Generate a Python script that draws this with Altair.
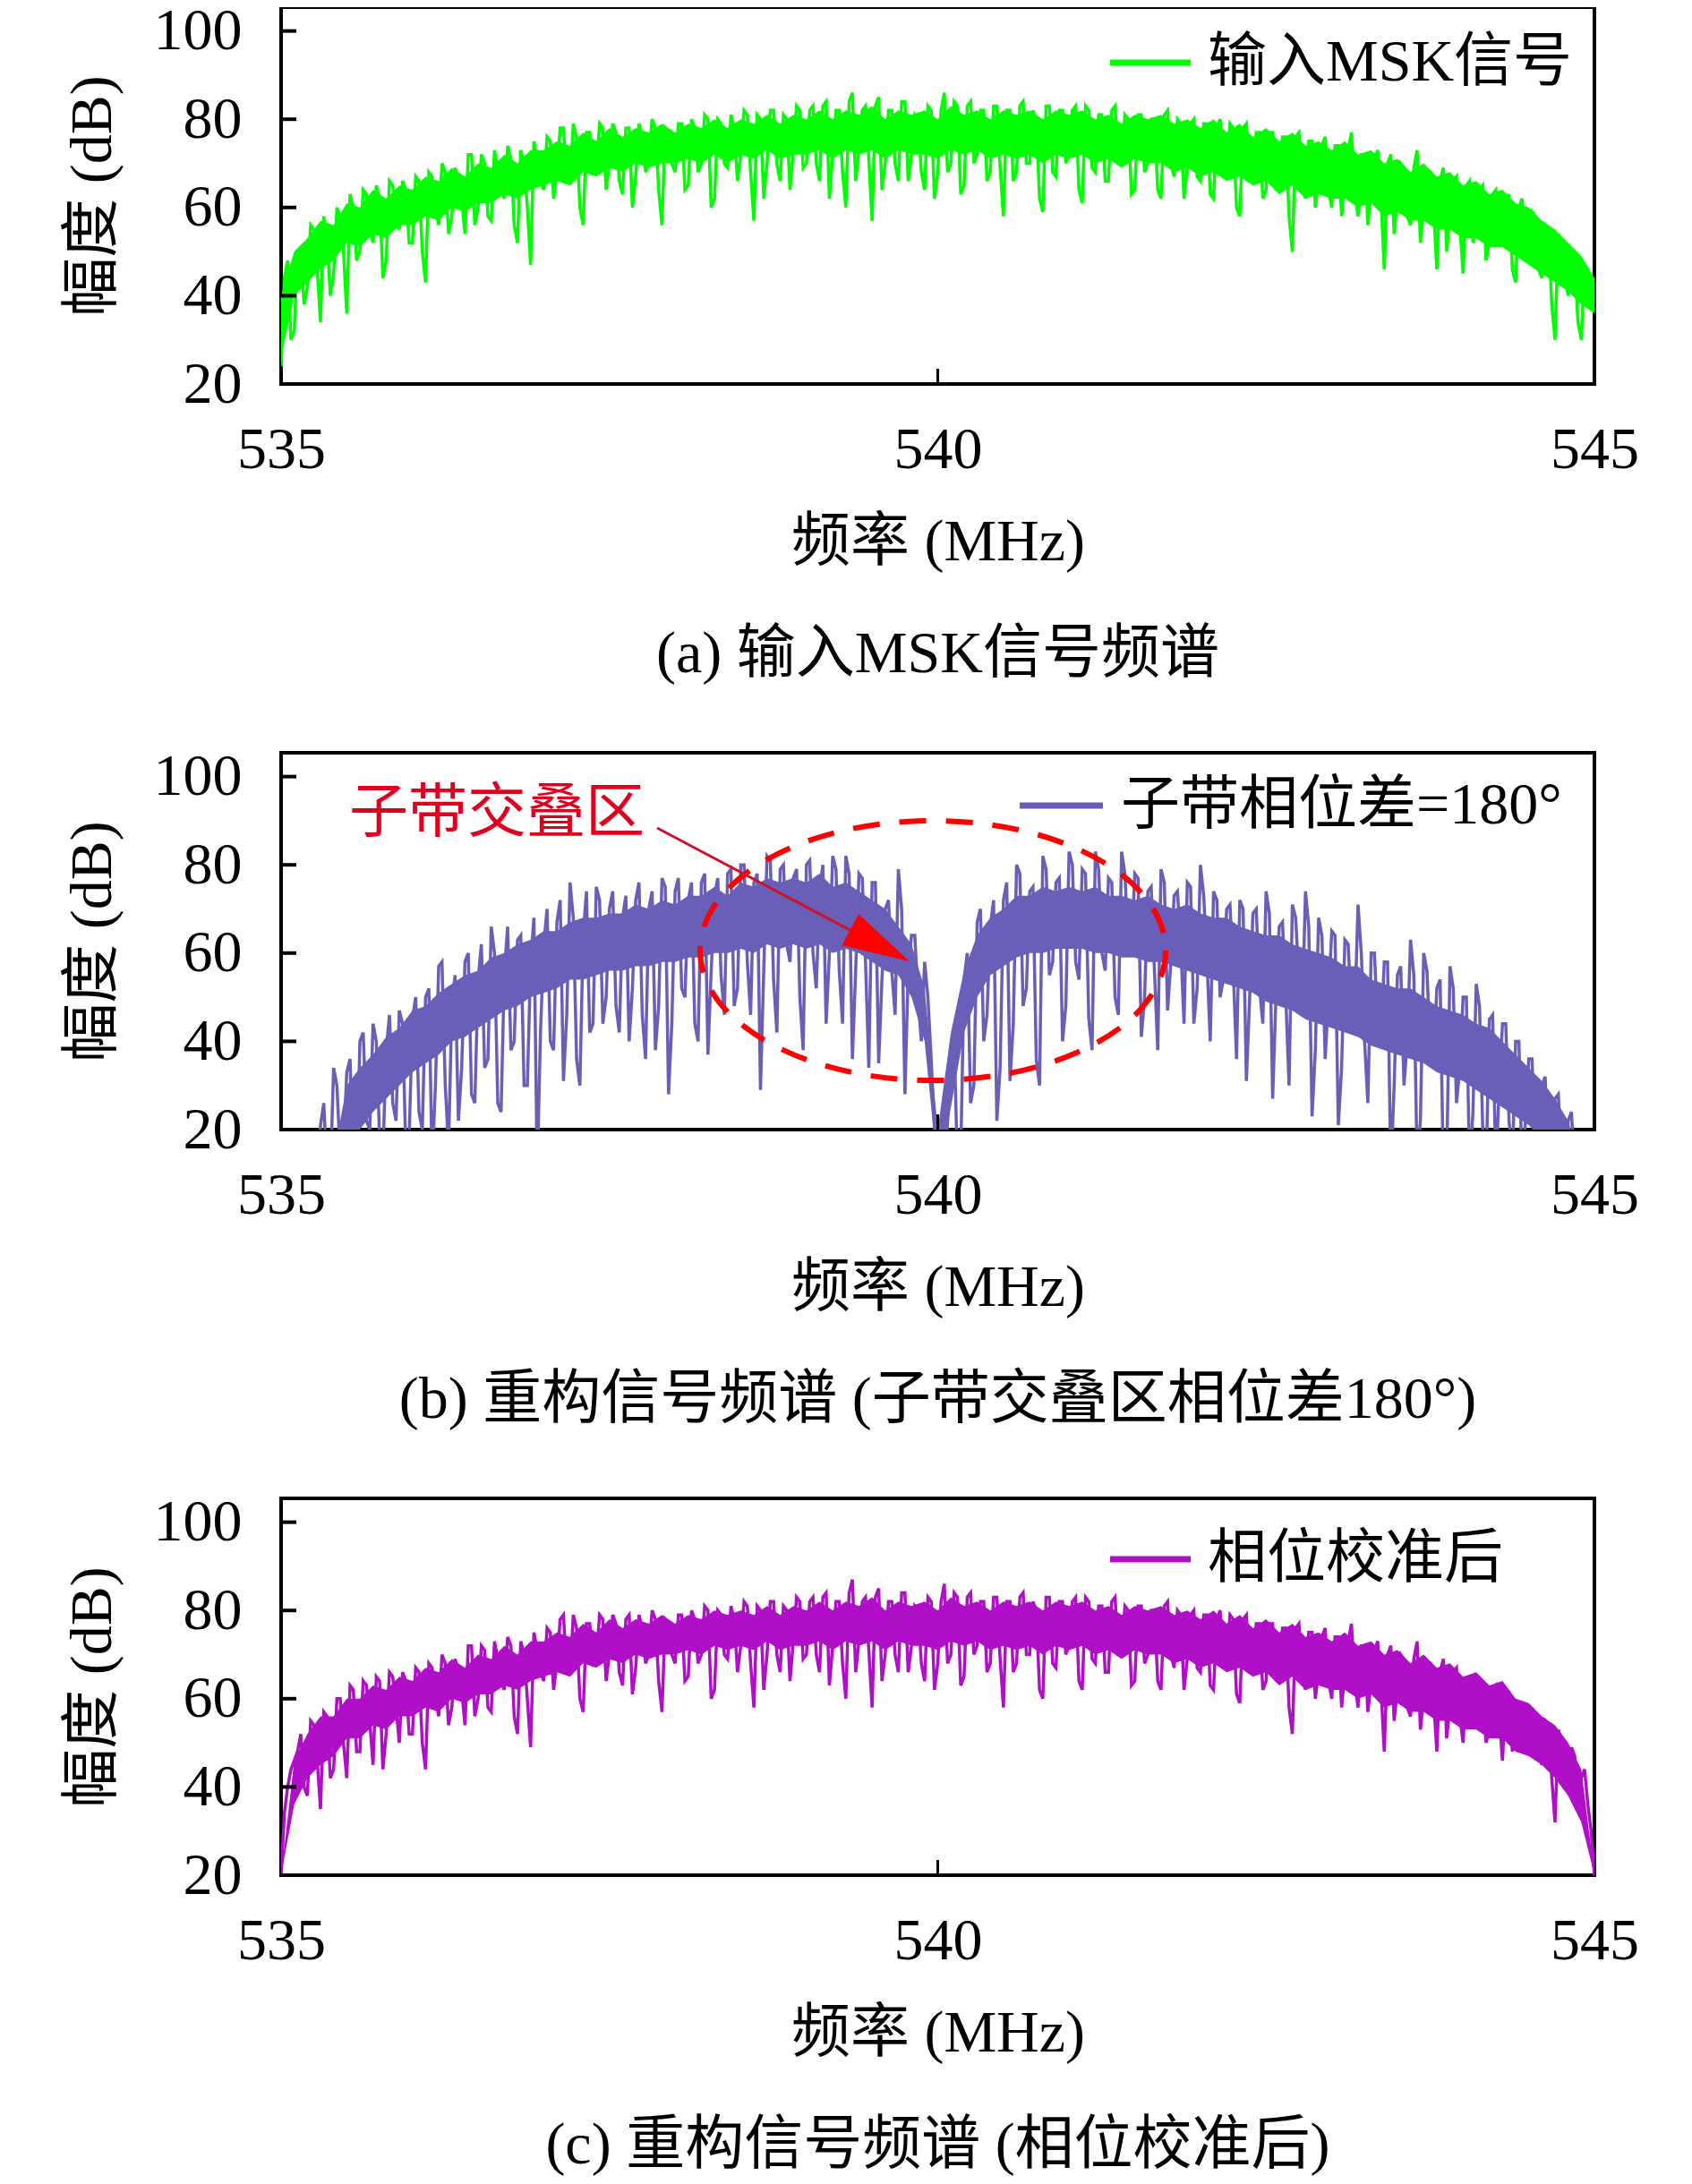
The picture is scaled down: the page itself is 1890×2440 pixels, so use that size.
import altair as alt
import pandas as pd

# ---------------- data ----------------
FREQ_START = 535.0   # MHz
FREQ_STEP = 0.05     # MHz between samples of each list
MID_OFFSET = 0.025   # the *_mid lists hold the samples lying half a step later
CORE_STEP = 0.1      # MHz between samples of the dense core band (lower / upper edge)

amp_input = [
    24, 48, 32, 50, 42, 55, 34, 53, 45, 58,
    36, 60, 50, 63, 52, 62, 48, 65, 55, 64,
    52, 66, 43, 67, 56, 68, 58, 66, 54, 72,
    60, 70, 57, 69, 62, 71, 52, 70, 47, 71,
    64, 75, 68, 78, 66, 76, 56, 77, 69, 78,
    70, 77, 63, 78, 67, 76, 70, 78, 56, 77,
    68, 79, 65, 78, 70, 80, 62, 79, 69, 78,
    72, 81, 57, 80, 70, 82, 66, 80, 73, 82,
    70, 83, 66, 84, 72, 82, 60, 86, 73, 83,
    57, 85, 70, 82, 66, 84, 72, 80, 64, 82,
    68, 86, 70, 83, 65, 84, 72, 82, 68, 83,
    58, 82, 68, 84, 70, 80, 59, 83, 67, 82,
    72, 83, 61, 82, 68, 81, 66, 83, 70, 80,
    64, 81, 70, 80, 62, 82, 67, 79, 69, 80,
    66, 79, 62, 80, 68, 78, 58, 79, 66, 77,
    64, 77, 68, 76, 50, 77, 62, 75, 66, 76,
    60, 74, 66, 77, 58, 72, 64, 73, 46, 72,
    62, 69, 56, 73, 60, 68, 46, 69, 58, 67,
    45, 66, 56, 65, 52, 64, 58, 63, 43, 62,
    52, 58, 44, 55, 30, 50, 40, 47, 30, 46,
    40,
]
amp_input_mid = [
    44, 30, 50, 38, 56, 46, 58, 40, 60, 50,
    63, 48, 64, 55, 65, 44, 66, 58, 66, 52,
    67, 50, 68, 60, 70, 54, 69, 62, 72, 56,
    72, 58, 73, 64, 74, 56, 73, 60, 75, 66,
    76, 62, 78, 66, 79, 60, 77, 68, 79, 64,
    79, 66, 78, 60, 79, 68, 80, 64, 78, 70,
    79, 64, 80, 68, 81, 60, 80, 70, 81, 66,
    82, 68, 81, 62, 82, 70, 81, 64, 83, 69,
    82, 70, 83, 62, 82, 68, 84, 66, 82, 71,
    83, 64, 82, 70, 84, 66, 81, 68, 83, 62,
    82, 68, 84, 63, 83, 70, 82, 66, 83, 69,
    82, 66, 83, 70, 82, 62, 83, 68, 82, 70,
    82, 64, 83, 69, 81, 66, 82, 70, 81, 63,
    81, 68, 80, 64, 81, 70, 80, 62, 79, 67,
    79, 63, 78, 68, 79, 60, 78, 66, 77, 62,
    77, 64, 76, 58, 76, 66, 75, 60, 74, 64,
    74, 58, 73, 64, 72, 56, 71, 62, 70, 54,
    70, 58, 69, 52, 68, 60, 66, 50, 66, 56,
    65, 52, 64, 48, 63, 55, 61, 46, 60, 50,
    59, 46, 56, 38, 54, 44, 50, 34, 47, 42,
]
core_input_lo = [
    26, 40, 43, 46, 48, 52, 51, 54, 53, 56,
    56, 58, 57, 60, 59, 61, 61, 63, 62, 64,
    65, 66, 65, 68, 67, 69, 68, 70, 69, 70,
    70, 71, 70, 72, 70, 72, 71, 73, 71, 72,
    72, 73, 71, 73, 72, 73, 71, 73, 72, 72,
    71, 73, 72, 73, 71, 72, 71, 72, 70, 72,
    71, 72, 70, 71, 69, 71, 70, 70, 68, 69,
    67, 68, 66, 67, 65, 66, 63, 65, 62, 63,
    62, 62, 60, 61, 58, 59, 57, 57, 55, 55,
    53, 53, 51, 51, 49, 47, 45, 43, 41, 38,
    36,
]
core_input_hi = [
    40, 50, 53, 57, 56, 61, 60, 64, 62, 65,
    64, 67, 66, 69, 67, 70, 69, 72, 70, 73,
    73, 75, 74, 77, 75, 78, 76, 78, 77, 79,
    77, 79, 78, 80, 78, 80, 79, 81, 79, 81,
    80, 82, 80, 82, 81, 83, 80, 82, 81, 82,
    80, 83, 81, 82, 80, 82, 81, 82, 80, 82,
    81, 82, 80, 81, 79, 81, 80, 81, 79, 80,
    78, 80, 77, 79, 76, 78, 75, 77, 74, 75,
    73, 75, 72, 73, 70, 71, 68, 70, 67, 68,
    65, 66, 63, 64, 61, 60, 57, 55, 52, 49,
    44,
]

amp_phase180 = [
    10, 10, 10, 10, 10, 12, 21, 10, 34, 14,
    33, 12, 40, 22, 44, 18, 38, 26, 47, 15,
    45, 24, 50, 12, 57, 30, 48, 22, 58, 28,
    54, 34, 66, 26, 56, 38, 63, 30, 58, 10,
    62, 40, 67, 31, 76, 36, 64, 42, 75, 44,
    70, 48, 68, 40, 72, 46, 70, 38, 77, 28,
    74, 52, 72, 44, 76, 37, 73, 55, 78, 48,
    80, 58, 76, 29, 82, 54, 79, 62, 77, 50,
    80, 60, 74, 44, 82, 56, 82, 36, 78, 58,
    76, 35, 70, 56, 79, 28, 64, 50, 58, 36,
    20, 10, 33, 12, 54, 26, 67, 40, 66, 22,
    72, 31, 80, 48, 74, 36, 82, 55, 76, 40,
    83, 58, 79, 45, 83, 60, 77, 50, 83, 62,
    78, 41, 74, 56, 79, 47, 73, 62, 76, 44,
    80, 58, 74, 50, 70, 56, 72, 31, 69, 52,
    74, 27, 66, 50, 71, 54, 74, 23, 68, 36,
    65, 21, 63, 46, 71, 40, 60, 44, 58, 10,
    55, 30, 63, 12, 60, 38, 52, 10, 57, 26,
    50, 10, 53, 20, 45, 10, 44, 22, 40, 10,
    36, 12, 30, 10, 27, 14, 22, 10, 10, 10,
    10,
]
amp_phase180_mid = [
    10, 10, 10, 10, 10, 10, 26, 10, 30, 16,
    36, 10, 42, 20, 40, 14, 46, 22, 44, 18,
    50, 20, 52, 30, 58, 16, 55, 34, 60, 26,
    62, 36, 60, 24, 66, 40, 64, 30, 68, 42,
    70, 38, 72, 46, 68, 30, 74, 44, 72, 50,
    74, 42, 73, 52, 76, 36, 74, 48, 75, 44,
    77, 50, 76, 40, 78, 56, 77, 46, 79, 52,
    80, 46, 78, 56, 81, 42, 80, 58, 79, 38,
    81, 52, 80, 60, 79, 44, 78, 56, 77, 34,
    76, 54, 72, 46, 70, 56, 64, 40, 50, 20,
    10, 22, 40, 14, 60, 30, 70, 46, 72, 34,
    76, 44, 78, 52, 75, 30, 79, 58, 77, 48,
    80, 54, 78, 38, 79, 56, 76, 46, 78, 60,
    77, 50, 75, 38, 76, 58, 74, 44, 75, 52,
    73, 40, 72, 54, 71, 36, 70, 50, 70, 44,
    69, 50, 67, 30, 68, 46, 66, 38, 64, 50,
    64, 34, 62, 46, 60, 26, 60, 42, 58, 30,
    57, 40, 55, 22, 56, 36, 54, 12, 52, 34,
    50, 24, 48, 10, 46, 30, 44, 12, 40, 22,
    36, 10, 32, 18, 28, 10, 24, 10, 14, 10,
]
core_phase180_lo = [
    10, 10, 10, 10, 10, 16, 20, 24, 27, 30,
    33, 35, 37, 40, 41, 43, 45, 47, 48, 50,
    51, 52, 54, 54, 55, 56, 56, 57, 57, 58,
    58, 59, 59, 60, 60, 61, 60, 62, 61, 62,
    61, 62, 60, 61, 60, 58, 56, 55, 50, 40,
    10, 25, 42, 50, 55, 57, 59, 60, 60, 61,
    61, 61, 60, 60, 59, 59, 58, 58, 57, 56,
    55, 54, 53, 52, 51, 49, 48, 47, 45, 44,
    43, 42, 41, 39, 38, 37, 36, 35, 33, 32,
    31, 29, 27, 25, 23, 21, 18, 14, 10, 10,
    10,
]
core_phase180_hi = [
    10, 10, 10, 10, 14, 30, 34, 37, 41, 43,
    47, 48, 51, 53, 55, 56, 59, 60, 62, 63,
    65, 65, 67, 68, 68, 69, 69, 71, 70, 72,
    71, 73, 73, 75, 73, 76, 75, 77, 76, 77,
    76, 78, 75, 76, 74, 72, 70, 66, 62, 52,
    20, 42, 56, 64, 68, 70, 73, 73, 75, 74,
    75, 74, 75, 73, 73, 72, 73, 71, 70, 71,
    69, 68, 68, 66, 65, 64, 64, 62, 61, 60,
    59, 57, 57, 54, 53, 52, 52, 50, 48, 47,
    46, 44, 43, 40, 37, 34, 31, 27, 22, 12,
    10,
]

amp_calibrated = [
    20, 40, 46, 52, 38, 54, 35, 56, 44, 60,
    42, 62, 48, 63, 45, 64, 52, 65, 50, 64,
    52, 66, 44, 67, 56, 68, 58, 66, 54, 72,
    60, 71, 57, 69, 62, 72, 52, 70, 49, 71,
    64, 75, 68, 79, 66, 76, 57, 77, 69, 78,
    70, 77, 63, 79, 67, 76, 70, 78, 57, 77,
    68, 79, 65, 78, 70, 80, 62, 79, 69, 78,
    72, 81, 58, 80, 70, 82, 66, 80, 73, 82,
    70, 83, 66, 84, 72, 82, 60, 87, 73, 83,
    58, 85, 70, 82, 66, 84, 72, 80, 64, 82,
    68, 86, 70, 83, 65, 84, 72, 82, 68, 83,
    58, 82, 68, 84, 70, 80, 60, 83, 67, 82,
    72, 83, 62, 82, 68, 81, 66, 83, 70, 80,
    64, 81, 70, 80, 62, 82, 67, 79, 69, 80,
    66, 79, 62, 80, 68, 78, 59, 79, 66, 77,
    64, 77, 68, 76, 52, 77, 62, 75, 66, 76,
    60, 74, 66, 77, 58, 72, 64, 73, 48, 72,
    62, 69, 56, 73, 60, 68, 48, 69, 58, 67,
    50, 64, 58, 62, 53, 63, 46, 61, 52, 58,
    56, 50, 45, 54, 32, 50, 40, 47, 42, 36,
    20,
]
amp_calibrated_mid = [
    34, 44, 48, 40, 55, 46, 57, 42, 60, 50,
    63, 48, 64, 55, 65, 44, 66, 58, 66, 52,
    67, 50, 68, 60, 70, 54, 69, 62, 72, 56,
    72, 58, 73, 64, 74, 56, 73, 60, 75, 66,
    76, 62, 78, 66, 79, 60, 77, 68, 79, 64,
    79, 66, 78, 61, 79, 68, 80, 64, 78, 70,
    79, 64, 80, 68, 81, 60, 80, 70, 81, 66,
    82, 68, 81, 62, 82, 70, 81, 64, 83, 69,
    82, 70, 83, 63, 82, 68, 84, 66, 82, 71,
    83, 64, 82, 70, 84, 66, 81, 68, 83, 62,
    82, 68, 84, 63, 83, 70, 82, 66, 83, 69,
    82, 66, 83, 70, 82, 62, 83, 68, 82, 70,
    82, 64, 83, 69, 81, 66, 82, 70, 81, 63,
    81, 68, 80, 64, 81, 70, 80, 62, 79, 67,
    79, 63, 78, 68, 79, 61, 78, 66, 77, 62,
    77, 64, 76, 58, 76, 66, 75, 60, 74, 64,
    74, 58, 73, 64, 72, 57, 71, 62, 70, 55,
    70, 58, 69, 53, 68, 60, 66, 51, 66, 56,
    64, 54, 63, 50, 62, 56, 60, 48, 58, 52,
    58, 48, 55, 42, 53, 44, 49, 38, 44, 30,
]
core_cal_lo = [
    20, 36, 42, 45, 47, 51, 51, 54, 53, 56,
    56, 58, 57, 60, 59, 61, 61, 63, 62, 64,
    65, 66, 65, 68, 67, 69, 68, 70, 69, 70,
    70, 71, 70, 72, 71, 72, 71, 73, 71, 72,
    72, 73, 71, 73, 72, 73, 71, 73, 72, 72,
    71, 73, 72, 73, 71, 72, 71, 72, 70, 72,
    71, 72, 70, 71, 69, 71, 70, 70, 68, 69,
    67, 68, 66, 67, 65, 66, 63, 65, 62, 63,
    62, 62, 60, 61, 58, 59, 57, 57, 55, 55,
    53, 53, 51, 51, 48, 47, 45, 42, 38, 32,
    20,
]
core_cal_hi = [
    20, 46, 52, 56, 56, 60, 60, 63, 62, 65,
    64, 67, 66, 69, 67, 70, 69, 72, 70, 73,
    73, 75, 74, 77, 75, 78, 76, 78, 77, 79,
    77, 79, 78, 80, 79, 80, 79, 81, 79, 81,
    80, 82, 80, 82, 81, 83, 80, 82, 81, 82,
    80, 83, 81, 82, 80, 82, 81, 82, 80, 82,
    81, 82, 80, 81, 79, 81, 80, 81, 79, 80,
    78, 80, 77, 79, 76, 78, 75, 77, 74, 75,
    73, 75, 72, 73, 70, 71, 68, 70, 67, 68,
    65, 66, 63, 64, 60, 59, 56, 54, 50, 44,
    20,
]

x_tick_values = [535, 540, 545]
y_tick_values = [20, 40, 60, 80, 100]
inner_x_ticks = [540]

x_title = "频率 (MHz)"
y_title = "幅度 (dB)"
legend_labels = ["输入MSK信号", "子带相位差=180°", "相位校准后"]
captions = ["(a) 输入MSK信号频谱", "(b) 重构信号频谱 (子带交叠区相位差180°)", "(c) 重构信号频谱 (相位校准后)"]
annotation_text = "子带交叠区"

colors = ["#00ff00", "#6a5fb8", "#b00fc8"]

# ---------------- styling ----------------
W, H = 1467, 421
FONT = "Liberation Serif, Noto Sans CJK SC"
FS = 66

xscale = alt.Scale(domain=[535, 545], nice=False, zero=False)
yscale = alt.Scale(domain=[20, 105.4], nice=False, zero=False)
xaxis = alt.Axis(values=x_tick_values, title=x_title, labelPadding=41, titlePadding=38,
                 labelFlush=False, labelOverlap=False)
yaxis = alt.Axis(values=y_tick_values, title=y_title, labelPadding=44, titlePadding=34,
                 labelFlush=False, labelOverlap=False)
one = pd.DataFrame({"d": [0]})


def spectrum_frame(values, mids):
    f_main = [round(FREQ_START + FREQ_STEP * i, 4) for i in range(len(values))]
    f_mid = [round(FREQ_START + MID_OFFSET + FREQ_STEP * i, 4) for i in range(len(mids))]
    df = pd.DataFrame({"f": f_main + f_mid, "a": list(values) + list(mids)})
    return df.sort_values("f").reset_index(drop=True)


def panel(values, mids, core_lo, core_hi, color, legend, caption, legend_pos, extra=None):
    df = spectrum_frame(values, mids)
    cfreqs = [round(FREQ_START + CORE_STEP * i, 4) for i in range(len(core_lo))]
    cdf = pd.DataFrame({"f": cfreqs, "lo": core_lo, "hi": core_hi})

    core = alt.Chart(cdf).mark_area(color=color, opacity=1, clip=True).encode(
        x=alt.X("f:Q", scale=xscale, axis=xaxis),
        y=alt.Y("lo:Q", scale=yscale, axis=yaxis),
        y2="hi:Q")
    line = alt.Chart(df).mark_line(color=color, strokeWidth=3.5, clip=True).encode(
        x=alt.X("f:Q", scale=xscale, axis=xaxis),
        y=alt.Y("a:Q", scale=yscale, axis=yaxis))
    yt = alt.Chart(pd.DataFrame({"v": y_tick_values})).mark_rule(color="black", strokeWidth=4).encode(
        y=alt.Y("v:Q", scale=yscale, axis=yaxis),
        x=alt.value(0), x2=alt.value(17))
    xt = alt.Chart(pd.DataFrame({"v": inner_x_ticks})).mark_rule(color="black", strokeWidth=3).encode(
        x=alt.X("v:Q", scale=xscale, axis=xaxis),
        y=alt.value(H), y2=alt.value(H - 17))
    lx1, lx2, ly, tx = legend_pos
    leg_line = alt.Chart(one).mark_rule(color=color, strokeWidth=7).encode(
        x=alt.value(lx1), x2=alt.value(lx2), y=alt.value(ly))
    leg_text = alt.Chart(one).mark_text(align="left", baseline="middle", font=FONT,
                                        fontSize=FS, color="black").encode(
        x=alt.value(tx), y=alt.value(ly), text=alt.value(legend))
    cap = alt.Chart(one).mark_text(align="center", baseline="middle", font=FONT,
                                   fontSize=FS, color="black").encode(
        x=alt.value(W / 2), y=alt.value(H + 302), text=alt.value(caption))
    layers = [core, line]
    if extra:
        layers += extra
    layers += [yt, xt, leg_line, leg_text, cap]
    return alt.layer(*layers).properties(width=W, height=H)


ellipse_path = ("M1,0 C1,0.308 0.552,0.558 0,0.558 C-0.552,0.558 -1,0.308 -1,0 "
                "C-1,-0.308 -0.552,-0.558 0,-0.558 C0.552,-0.558 1,-0.308 1,0 Z")
ellipse = alt.Chart(one).mark_point(shape=ellipse_path, filled=False, color="#ff0000",
                                    strokeWidth=6, strokeDash=[30, 22], size=270400,
                                    opacity=1).encode(x=alt.value(728), y=alt.value(221))
arrow_line = alt.Chart(one).mark_rule(color="#d0102a", strokeWidth=3).encode(
    x=alt.value(420), y=alt.value(84), x2=alt.value(690), y2=alt.value(227))
arrow_head = alt.Chart(one).mark_point(shape="M0,0 L-0.53,2 L0.53,2 Z", filled=True,
                                       color="#ff0000", size=5625, angle=118,
                                       opacity=1).encode(x=alt.value(702), y=alt.value(233))
ann_text = alt.Chart(one).mark_text(align="center", baseline="middle", font=FONT,
                                    fontSize=FS, color="#e0001e").encode(
    x=alt.value(241), y=alt.value(68), text=alt.value(annotation_text))

pa = panel(amp_input, amp_input_mid, core_input_lo, core_input_hi, colors[0],
           legend_labels[0], captions[0], (926, 1016, 62, 1035))
pb = panel(amp_phase180, amp_phase180_mid, core_phase180_lo, core_phase180_hi, colors[1],
           legend_labels[1], captions[1], (825, 918, 59, 938),
           extra=[ellipse, arrow_line, arrow_head, ann_text])
pc = panel(amp_calibrated, amp_calibrated_mid, core_cal_lo, core_cal_hi, colors[2],
           legend_labels[2], captions[2], (926, 1016, 68, 1035))

chart = alt.vconcat(pa, pb, pc, spacing=66).properties(
    background="white",
    padding={"left": 60, "top": -9, "right": 5, "bottom": 5}
).configure_view(stroke="black", strokeWidth=4).configure_axis(
    grid=False, domain=False, ticks=False, tickSize=0,
    labelFont=FONT, titleFont=FONT, labelFontSize=FS, titleFontSize=FS,
    labelColor="black", titleColor="black", titleFontWeight="normal"
)

chart.save("out.html", embed_options={"renderer": "svg", "actions": False})
